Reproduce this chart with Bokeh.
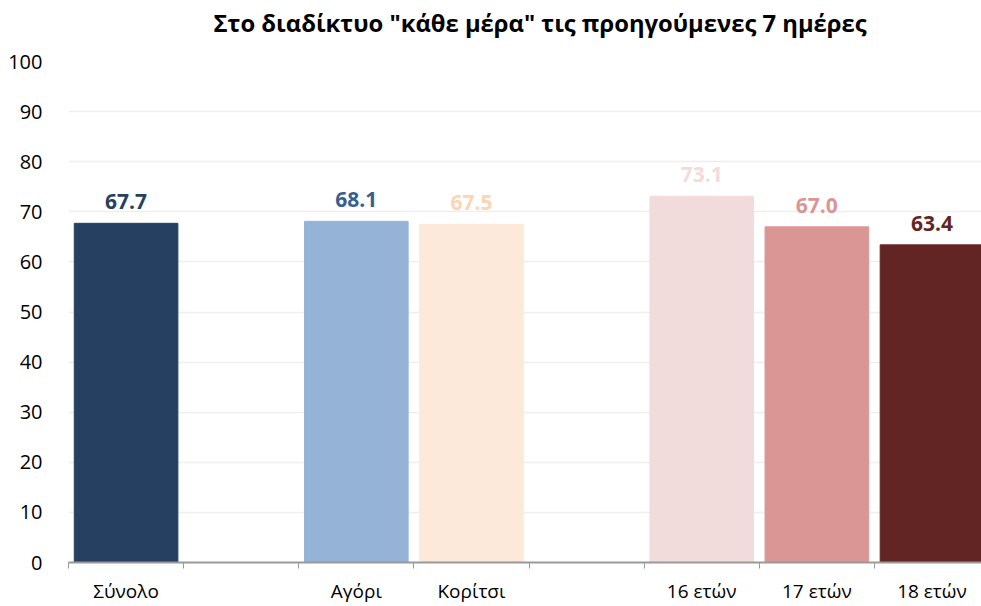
from bokeh.plotting import figure
from bokeh.models import ColumnDataSource, FixedTicker, LabelSet, Title
from bokeh.core.properties import value
from bokeh.embed import file_html
from bokeh.resources import INLINE

categories = ["Σύνολο", "", "Αγόρι", "Κορίτσι", "", "16 ετών", "17 ετών", "18 ετών"]
bar_pos = [0, 2, 3, 5, 6, 7]
values = [67.7, 68.1, 67.5, 73.1, 67.0, 63.4]
bar_colors = ["#264061", "#95B3D7", "#FDE9D9", "#F2DCDB", "#DA9694", "#632523"]
label_colors = ["#264061", "#366092", "#FCD5B4", "#F2DCDB", "#DA9694", "#632523"]
y_ticks = [0, 10, 20, 30, 40, 50, 60, 70, 80, 90, 100]
title_text = 'Στο διαδίκτυο "κάθε μέρα" τις προηγούμενες 7 ημέρες'

FONT = "Open Sans"

p = figure(width=981, height=606, output_backend="svg", toolbar_location=None,
           x_range=(-0.5, 7.43), y_range=(0, 100),
           min_border_left=68, min_border_right=0, min_border_top=60, min_border_bottom=43)
p.title = None
# spacer (closest to the frame), then the real title above it
p.add_layout(Title(text=" ", text_font_size="1px", standoff=16), "above")
p.add_layout(Title(text=title_text, align="left", text_font=FONT, text_font_size="23.8px",
                   text_font_style="bold", text_color="#000000", offset=145, standoff=8),
             "above")
p.outline_line_color = None
p.background_fill_color = "white"
p.border_fill_color = "white"

src = ColumnDataSource(dict(x=bar_pos, top=values, color=bar_colors,
                            lcolor=label_colors, label=[f"{v:.1f}" for v in values]))
p.vbar(x="x", top="top", width=0.9, bottom=0, color="color", source=src)

labels = LabelSet(x="x", y="top", text="label", source=src, text_align="center",
                  text_baseline="alphabetic", y_offset=14, text_color="lcolor",
                  text_font=value(FONT), text_font_size=value("21px"),
                  text_font_style=value("bold"))
p.add_layout(labels)

# x axis
p.xaxis.ticker = FixedTicker(ticks=list(range(len(categories))),
                             minor_ticks=[i - 0.5 for i in range(len(categories) + 1)])
p.xaxis.major_label_overrides = {i: c for i, c in enumerate(categories)}
p.xaxis.major_tick_out = 0
p.xaxis.major_tick_in = 0
p.xaxis.minor_tick_out = 6
p.xaxis.minor_tick_in = 0
p.xaxis.minor_tick_line_color = "#999999"
p.xaxis.axis_line_color = "#999999"
p.xaxis.axis_line_width = 2
p.xaxis.major_label_text_font = FONT
p.xaxis.major_label_text_font_size = "19px"
p.xaxis.major_label_text_color = "#000000"
p.xaxis.major_label_standoff = 9
p.xgrid.grid_line_color = None

# y axis
p.yaxis.ticker = FixedTicker(ticks=y_ticks)
p.yaxis.axis_line_color = None
p.yaxis.major_tick_line_color = None
p.yaxis.minor_tick_line_color = None
p.yaxis.major_label_text_font = FONT
p.yaxis.major_label_text_font_size = "20px"
p.yaxis.major_label_text_color = "#000000"
p.yaxis.major_label_standoff = 20
p.ygrid.grid_line_color = "#EEEEEE"
p.ygrid.grid_line_width = 1.5

open("out.html", "w").write(file_html(p, INLINE))
